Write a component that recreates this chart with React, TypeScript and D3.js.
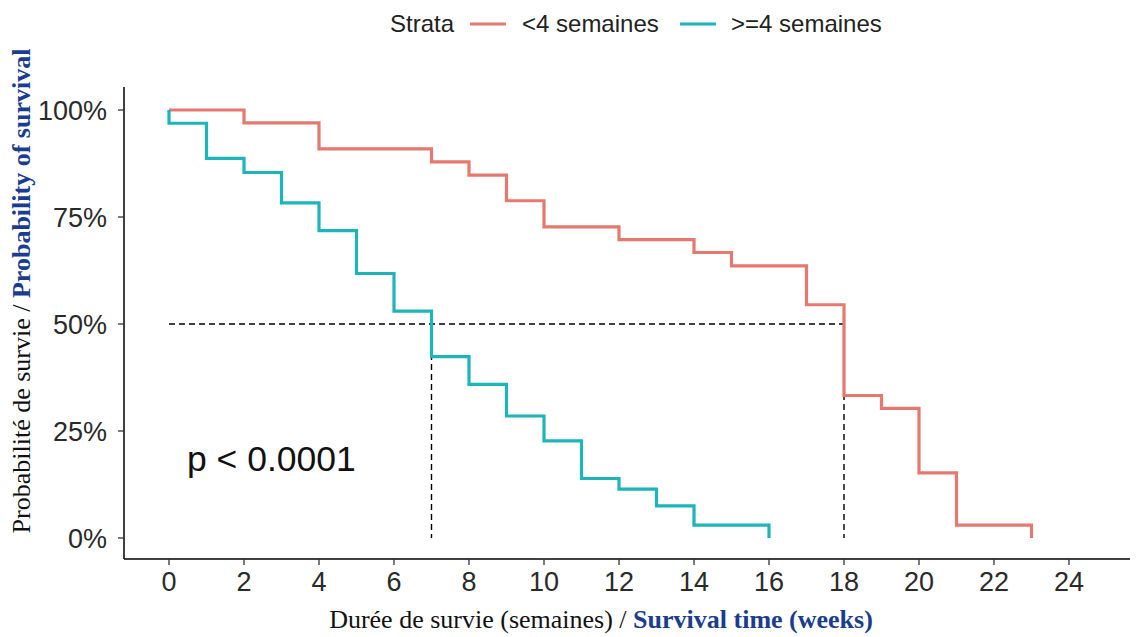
import React from "react";
import * as d3 from "d3";

const redTimes = [0, 2, 4, 7, 8, 9, 10, 12, 14, 15, 17, 18, 19, 20, 21, 23];
const redSurv = [1, 0.97, 0.909, 0.879, 0.848, 0.788, 0.727, 0.697, 0.667, 0.636, 0.545, 0.333, 0.303, 0.152, 0.03, 0];
const tealTimes = [0, 0, 1, 2, 3, 4, 5, 6, 7, 8, 9, 10, 11, 12, 13, 14, 16];
const tealSurv = [1, 0.969, 0.887, 0.854, 0.783, 0.718, 0.618, 0.53, 0.424, 0.359, 0.285, 0.227, 0.139, 0.114, 0.075, 0.03, 0];
const xTicks = [0, 2, 4, 6, 8, 10, 12, 14, 16, 18, 20, 22, 24];
const yTicks = [0, 0.25, 0.5, 0.75, 1];
const medians = [7, 18];
const strataLabels = ["<4 semaines", ">=4 semaines"];

const RED = "#E5786F";
const TEAL = "#1DB5B9";
const BLUE = "#1B3D8F";
const SANS = "'Liberation Sans', Arial, sans-serif";
const SERIF = "'Liberation Serif', 'Times New Roman', serif";

export default function App() {
  const x = d3.scaleLinear().domain([0, 24]).range([169, 1069]);
  const y = d3.scaleLinear().domain([0, 1]).range([538, 110]);
  const axisLeft = 124;
  const axisBottom = 559;
  const axisTop = 87;
  const axisRight = 1130;

  const line = d3
    .line<[number, number]>()
    .x((d) => x(d[0]))
    .y((d) => y(d[1]))
    .curve(d3.curveStepAfter);

  const redPts = redTimes.map((t, i) => [t, redSurv[i]] as [number, number]);
  const tealPts = tealTimes.map((t, i) => [t, tealSurv[i]] as [number, number]);

  return (
    <svg
      width={1142}
      height={637}
      style={{ position: "absolute", left: 0, top: 0, background: "#fff" }}
    >
      {/* Legend */}
      <g fontFamily={SANS} fontSize={24} fill="#222">
        <text x={390} y={32}>Strata</text>
        <line x1={470} x2={506} y1={24} y2={24} stroke={RED} strokeWidth={3} />
        <text x={522} y={32}>{strataLabels[0]}</text>
        <line x1={680} x2={716} y1={24} y2={24} stroke={TEAL} strokeWidth={3} />
        <text x={731} y={32}>{strataLabels[1]}</text>
      </g>

      {/* Axes */}
      <line x1={axisLeft} x2={axisLeft} y1={axisTop} y2={axisBottom} stroke="#000" strokeWidth={1.5} />
      <line x1={axisLeft} x2={axisRight} y1={axisBottom} y2={axisBottom} stroke="#000" strokeWidth={1.5} />
      {yTicks.map((t) => (
        <g key={"y" + t}>
          <line x1={axisLeft - 6} x2={axisLeft} y1={y(t)} y2={y(t)} stroke="#333" strokeWidth={1.3} />
          <text
            x={107}
            y={y(t)}
            dy="0.36em"
            textAnchor="end"
            fontFamily={SANS}
            fontSize={27}
            fill="#2a2a2a"
          >
            {Math.round(t * 100) + "%"}
          </text>
        </g>
      ))}
      {xTicks.map((t) => (
        <g key={"x" + t}>
          <line x1={x(t)} x2={x(t)} y1={axisBottom} y2={axisBottom + 6} stroke="#333" strokeWidth={1.3} />
          <text
            x={x(t)}
            y={591}
            textAnchor="middle"
            fontFamily={SANS}
            fontSize={27}
            fill="#2a2a2a"
          >
            {t}
          </text>
        </g>
      ))}

      {/* Median lines */}
      <g stroke="#000" strokeWidth={1.4} strokeDasharray="6,4" fill="none">
        <line x1={x(0)} x2={x(medians[1])} y1={y(0.5)} y2={y(0.5)} />
        {medians.map((m) => (
          <line key={"m" + m} x1={x(m)} x2={x(m)} y1={y(0.5)} y2={y(0)} />
        ))}
      </g>

      {/* Curves */}
      <path d={line(redPts) || ""} fill="none" stroke={RED} strokeWidth={3.2} />
      <path d={line(tealPts) || ""} fill="none" stroke={TEAL} strokeWidth={3.2} />

      {/* p-value */}
      <text x={187} y={471} fontFamily={SANS} fontSize={35.5} fill="#111">
        p &lt; 0.0001
      </text>

      {/* Axis titles */}
      <text x={601} y={628} textAnchor="middle" fontFamily={SERIF} fontSize={26} fill="#111">
        Durée de survie (semaines) /{" "}
        <tspan fill={BLUE} fontWeight="bold">Survival time (weeks)</tspan>
      </text>
      <text
        transform="translate(30,291) rotate(-90)"
        textAnchor="middle"
        fontFamily={SERIF}
        fontSize={26}
        fill="#111"
      >
        Probabilité de survie /{" "}
        <tspan fill={BLUE} fontWeight="bold">Probability of survival</tspan>
      </text>
    </svg>
  );
}
